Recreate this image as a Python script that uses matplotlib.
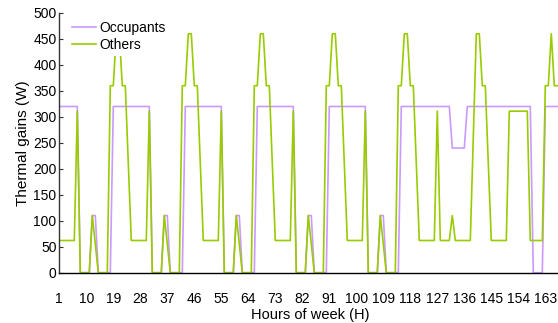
import matplotlib
matplotlib.use("Agg")
import matplotlib.pyplot as plt

plt.rcParams['font.family'] = ['Liberation Sans', 'DejaVu Sans']

# Hourly internal heat gains over one week (W)
hours = list(range(1, 169))

occupants_mon = [320, 320, 320, 320, 320, 320, 320, 0, 0, 0, 0, 110,
                 110, 0, 0, 0, 0, 0, 320, 320, 320, 320, 320, 320]
occupants_tue = [320, 320, 320, 320, 320, 320, 320, 0, 0, 0, 0, 110,
                 110, 0, 0, 0, 0, 0, 320, 320, 320, 320, 320, 320]
occupants_wed = [320, 320, 320, 320, 320, 320, 320, 0, 0, 0, 0, 110,
                 110, 0, 0, 0, 0, 0, 320, 320, 320, 320, 320, 320]
occupants_thu = [320, 320, 320, 320, 320, 320, 320, 0, 0, 0, 0, 110,
                 110, 0, 0, 0, 0, 0, 320, 320, 320, 320, 320, 320]
occupants_fri = [320, 320, 320, 320, 320, 320, 320, 0, 0, 0, 0, 110,
                 110, 0, 0, 0, 0, 0, 320, 320, 320, 320, 320, 320]
occupants_sat = [320, 320, 320, 320, 320, 320, 320, 320, 320, 320, 320, 240,
                 240, 240, 240, 240, 320, 320, 320, 320, 320, 320, 320, 320]
occupants_sun = [320, 320, 320, 320, 320, 320, 320, 320, 320, 320, 320, 320,
                 320, 320, 0, 0, 0, 0, 320, 320, 320, 320, 320, 320]

others_mon = [62, 62, 62, 62, 62, 62, 311, 0, 0, 0, 0, 110,
              55, 0, 0, 0, 0, 360, 360, 460, 460, 360, 360, 211]
others_tue = [62, 62, 62, 62, 62, 62, 311, 0, 0, 0, 0, 110,
              55, 0, 0, 0, 0, 360, 360, 460, 460, 360, 360, 211]
others_wed = [62, 62, 62, 62, 62, 62, 311, 0, 0, 0, 0, 110,
              55, 0, 0, 0, 0, 360, 360, 460, 460, 360, 360, 211]
others_thu = [62, 62, 62, 62, 62, 62, 311, 0, 0, 0, 0, 110,
              55, 0, 0, 0, 0, 360, 360, 460, 460, 360, 360, 211]
others_fri = [62, 62, 62, 62, 62, 62, 311, 0, 0, 0, 0, 110,
              55, 0, 0, 0, 0, 360, 360, 460, 460, 360, 360, 211]
others_sat = [62, 62, 62, 62, 62, 62, 311, 62, 62, 62, 62, 110,
              62, 62, 62, 62, 62, 62, 261, 460, 460, 360, 360, 211]
others_sun = [62, 62, 62, 62, 62, 62, 311, 311, 311, 311, 311, 311,
              311, 62, 62, 62, 62, 62, 360, 360, 460, 360, 360, 360]

occupants = (occupants_mon + occupants_tue + occupants_wed + occupants_thu
             + occupants_fri + occupants_sat + occupants_sun)
others = (others_mon + others_tue + others_wed + others_thu
          + others_fri + others_sat + others_sun)

xticks = list(range(1, 164, 9))
yticks = list(range(0, 501, 50))

W, H = 558, 323
fig = plt.figure(figsize=(W / 100, H / 100), dpi=100)
left, right, top, bottom = 59.3, 560.3, 13.0, 272.7
ax = fig.add_axes([left / W, 1 - bottom / H, (right - left) / W, (bottom - top) / H])

ax.plot(hours, occupants, color='#CC99FF', lw=1.2, label='Occupants', zorder=2)
ax.plot(hours, others, color='#99CC00', lw=1.2, label='Others', zorder=3)

ax.set_xlim(1, 168)
ax.set_ylim(0, 500)
ax.set_xticks(xticks)
ax.set_yticks(yticks)

ax.spines['top'].set_visible(False)
ax.spines['right'].set_visible(False)
ax.spines['left'].set_color('#333333')
ax.spines['left'].set_linewidth(1.0)
ax.spines['bottom'].set_color('black')
ax.spines['bottom'].set_linewidth(1.0)
ax.spines['left'].set_zorder(5)
ax.spines['bottom'].set_zorder(5)

ax.tick_params(axis='y', direction='in', length=3, width=0.8, color='#333333',
               labelsize=10, pad=2)
ax.tick_params(axis='x', length=0, labelsize=10, pad=14)

ax.set_xlabel('Hours of week (H)', fontsize=10.5, labelpad=1)
ax.set_ylabel('Thermal gains (W)', fontsize=11, labelpad=2)

leg = ax.legend(loc='upper left', bbox_to_anchor=(0.017, 0.985), frameon=True,
                fontsize=10, handlelength=1.7, handletextpad=0.25,
                labelspacing=0.2, borderpad=0.3, borderaxespad=0.0)
leg.get_frame().set_facecolor('white')
leg.get_frame().set_edgecolor('none')
leg.get_frame().set_alpha(1.0)
leg.set_zorder(10)

fig.savefig('out.png', dpi=100)
